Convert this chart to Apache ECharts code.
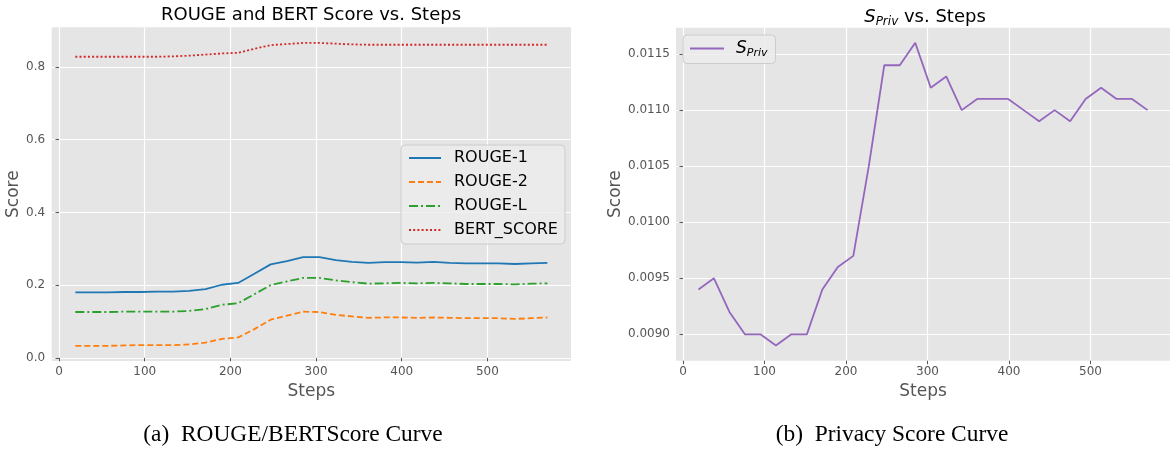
<!DOCTYPE html>
<html>
<head>
<meta charset="utf-8">
<script src="https://cdn.jsdelivr.net/npm/echarts@6/dist/echarts.min.js"></script>
<style>
  html, body { margin: 0; padding: 0; background: #fff; }
  #chart { width: 1170px; height: 451px; }
</style>
</head>
<body>
<div id="chart"></div>
<script>
// training steps (x)
var steps = [19, 38, 57, 76, 95, 114, 133, 152, 171, 190, 209, 228, 247, 266, 285,
             304, 323, 342, 361, 380, 399, 418, 437, 456, 475, 494, 513, 532, 551, 570];

// left panel
var rouge1 = [0.180, 0.180, 0.180, 0.181, 0.181, 0.182, 0.182, 0.184, 0.189, 0.201, 0.206, 0.231, 0.257, 0.266, 0.277,
              0.277, 0.269, 0.264, 0.261, 0.263, 0.263, 0.262, 0.264, 0.261, 0.260, 0.260, 0.260, 0.258, 0.260, 0.261];
var rouge2 = [0.033, 0.033, 0.033, 0.034, 0.035, 0.035, 0.035, 0.037, 0.042, 0.052, 0.056, 0.079, 0.105, 0.116, 0.127,
              0.126, 0.118, 0.114, 0.110, 0.111, 0.111, 0.110, 0.111, 0.110, 0.109, 0.109, 0.109, 0.107, 0.109, 0.111];
var rougeL = [0.126, 0.126, 0.126, 0.127, 0.127, 0.127, 0.127, 0.129, 0.134, 0.146, 0.150, 0.175, 0.200, 0.210, 0.220,
              0.220, 0.213, 0.208, 0.204, 0.205, 0.206, 0.205, 0.206, 0.205, 0.203, 0.203, 0.203, 0.202, 0.204, 0.205];
var bertScore = [0.828, 0.828, 0.828, 0.828, 0.828, 0.828, 0.829, 0.831, 0.834, 0.837, 0.839, 0.850, 0.860, 0.863, 0.866,
                 0.866, 0.864, 0.862, 0.861, 0.861, 0.861, 0.861, 0.861, 0.861, 0.861, 0.861, 0.861, 0.861, 0.861, 0.861];

// right panel
var sPriv = [0.0094, 0.0095, 0.0092, 0.0090, 0.0090, 0.0089, 0.0090, 0.0090, 0.0094, 0.0096, 0.0097, 0.0105, 0.0114, 0.0114, 0.0116,
             0.0112, 0.0113, 0.0110, 0.0111, 0.0111, 0.0111, 0.0110, 0.0109, 0.0110, 0.0109, 0.0111, 0.0112, 0.0111, 0.0111, 0.0110];

// ticks
var stepTicks = [0, 100, 200, 300, 400, 500];
var scoreTicks = [0, 0.2, 0.4, 0.6, 0.8];
var privTicks = [0.009, 0.0095, 0.01, 0.0105, 0.011, 0.0115];

var FONT = 'DejaVu Sans';
var tickColor = '#555555';

function pairs(ys) {
  return steps.map(function (s, i) { return [s, ys[i]]; });
}

function xAxisOf(idx) {
  return {
    type: 'value',
    gridIndex: idx,
    min: -8.55,
    max: 597.55,
    name: 'Steps',
    nameLocation: 'middle',
    nameGap: 16,
    nameTextStyle: { fontFamily: FONT, fontSize: 17, color: tickColor },
    axisLine: { show: false },
    axisTick: { show: true, length: 3.5, customValues: stepTicks, lineStyle: { color: tickColor } },
    axisLabel: { customValues: stepTicks, margin: 5, fontFamily: FONT, fontSize: 12, color: tickColor },
    splitLine: { show: true, lineStyle: { color: '#ffffff', width: 1.2 } }
  };
}

var option = {
  animation: false,
  backgroundColor: '#ffffff',
  title: [
    { text: 'ROUGE and BERT Score vs. Steps', left: 311, top: 6, textAlign: 'center', padding: 0,
      textStyle: { fontFamily: FONT, fontSize: 18, fontWeight: 'normal', color: '#000' } },
    { text: '{i|S}{sub|Priv}{n| vs. Steps}', left: 925, top: 6, textAlign: 'center', padding: 0,
      textStyle: {
        fontFamily: FONT, fontSize: 18, fontWeight: 'normal', color: '#000',
        rich: {
          i: { fontFamily: FONT, fontSize: 18, fontStyle: 'italic', color: '#000', lineHeight: 22 },
          sub: { fontFamily: FONT, fontSize: 12, fontStyle: 'italic', color: '#000', padding: [10, 0, 0, 0] },
          n: { fontFamily: FONT, fontSize: 18, color: '#000', lineHeight: 22 }
        }
      } },
    { text: '(a)  ROUGE/BERTScore Curve', left: 293, top: 423, textAlign: 'center', padding: 0,
      textStyle: { fontFamily: 'Liberation Serif', fontSize: 23.4, fontWeight: 'normal', color: '#000' } },
    { text: '(b)  Privacy Score Curve', left: 892, top: 423, textAlign: 'center', padding: 0,
      textStyle: { fontFamily: 'Liberation Serif', fontSize: 23.4, fontWeight: 'normal', color: '#000' } }
  ],
  legend: [
    {
      data: ['ROUGE-1', 'ROUGE-2', 'ROUGE-L', 'BERT_SCORE'],
      orient: 'vertical',
      left: 401, top: 145,
      itemWidth: 32, itemHeight: 14, itemGap: 6,
      padding: [4, 7, 5, 7],
      backgroundColor: 'rgba(236,236,236,0.8)',
      borderColor: '#cccccc', borderWidth: 1, borderRadius: 4,
      itemStyle: { opacity: 0 },
      textStyle: { fontFamily: FONT, fontSize: 16, color: '#000', lineHeight: 18, padding: [0, 0, 0, 8] }
    },
    {
      data: ['S_Priv'],
      orient: 'vertical',
      left: 683, top: 35,
      itemWidth: 34, itemHeight: 14,
      padding: [5, 8, 5, 6],
      backgroundColor: 'rgba(236,236,236,0.8)',
      borderColor: '#cccccc', borderWidth: 1, borderRadius: 4,
      itemStyle: { opacity: 0 },
      formatter: function () { return '{i|S}{sub|Priv}'; },
      textStyle: {
        fontFamily: FONT, fontSize: 16, color: '#000', padding: [0, 0, 0, 7],
        rich: {
          i: { fontFamily: FONT, fontSize: 17, fontStyle: 'italic', color: '#000', lineHeight: 20 },
          sub: { fontFamily: FONT, fontSize: 11, fontStyle: 'italic', color: '#000', padding: [9, 0, 0, 0] }
        }
      }
    }
  ],
  grid: [
    { left: 51.7, top: 27.3, width: 519.3, height: 333.7, show: true, backgroundColor: '#E5E5E5', borderWidth: 0 },
    { left: 676, top: 27.7, width: 498, height: 333, show: true, backgroundColor: '#E5E5E5', borderWidth: 0 }
  ],
  xAxis: [xAxisOf(0), xAxisOf(1)],
  yAxis: [
    {
      type: 'value', gridIndex: 0, min: -0.0087, max: 0.909,
      name: 'Score', nameLocation: 'middle', nameGap: 27,
      nameTextStyle: { fontFamily: FONT, fontSize: 17, color: tickColor },
      axisLine: { show: false },
      axisTick: { show: true, length: 3.5, customValues: scoreTicks, lineStyle: { color: tickColor } },
      axisLabel: { customValues: scoreTicks, margin: 6.5, fontFamily: FONT, fontSize: 12, color: tickColor,
        formatter: function (v) { return v.toFixed(1); } },
      splitLine: { show: true, lineStyle: { color: '#ffffff', width: 1.2 } }
    },
    {
      type: 'value', gridIndex: 1, min: 0.008765, max: 0.011735,
      name: 'Score', nameLocation: 'middle', nameGap: 47.5,
      nameTextStyle: { fontFamily: FONT, fontSize: 17, color: tickColor },
      axisLine: { show: false },
      axisTick: { show: true, length: 3.5, customValues: privTicks, lineStyle: { color: tickColor } },
      axisLabel: { customValues: privTicks, margin: 6, fontFamily: FONT, fontSize: 12, color: tickColor,
        formatter: function (v) { return v.toFixed(4); } },
      splitLine: { show: true, lineStyle: { color: '#ffffff', width: 1.2 } }
    }
  ],
  series: [
    { name: 'ROUGE-1', type: 'line', xAxisIndex: 0, yAxisIndex: 0, data: pairs(rouge1), symbol: 'none',
      itemStyle: { color: '#1f77b4' }, lineStyle: { color: '#1f77b4', width: 1.8 } },
    { name: 'ROUGE-2', type: 'line', xAxisIndex: 0, yAxisIndex: 0, data: pairs(rouge2), symbol: 'none',
      itemStyle: { color: '#ff7f0e' }, lineStyle: { color: '#ff7f0e', width: 1.8, type: [6, 3] } },
    { name: 'ROUGE-L', type: 'line', xAxisIndex: 0, yAxisIndex: 0, data: pairs(rougeL), symbol: 'none',
      itemStyle: { color: '#2ca02c' }, lineStyle: { color: '#2ca02c', width: 1.8, type: [9, 3, 2, 3] } },
    { name: 'BERT_SCORE', type: 'line', xAxisIndex: 0, yAxisIndex: 0, data: pairs(bertScore), symbol: 'none',
      itemStyle: { color: '#d62728' }, lineStyle: { color: '#d62728', width: 1.8, type: [2, 2.2] } },
    { name: 'S_Priv', type: 'line', xAxisIndex: 1, yAxisIndex: 1, data: pairs(sPriv), symbol: 'none',
      itemStyle: { color: '#9467bd' }, lineStyle: { color: '#9467bd', width: 1.8 } }
  ]
};

var chart = echarts.init(document.getElementById('chart'), null, { renderer: 'canvas' });
chart.setOption(option);
</script>
</body>
</html>
